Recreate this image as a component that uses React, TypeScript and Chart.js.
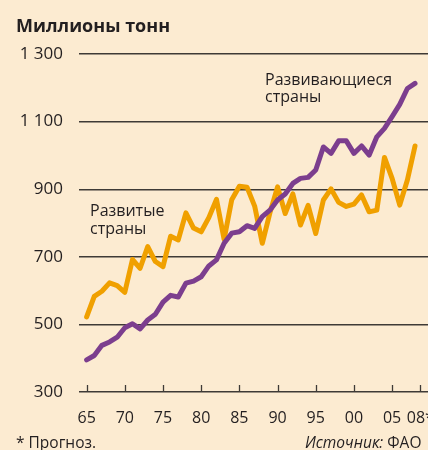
import React, { useEffect, useRef } from 'react';
import { Chart, registerables } from 'chart.js';

Chart.register(...registerables);

const years = [
  1965, 1966, 1967, 1968, 1969, 1970, 1971, 1972, 1973, 1974,
  1975, 1976, 1977, 1978, 1979, 1980, 1981, 1982, 1983, 1984,
  1985, 1986, 1987, 1988, 1989, 1990, 1991, 1992, 1993, 1994,
  1995, 1996, 1997, 1998, 1999, 2000, 2001, 2002, 2003, 2004,
  2005, 2006, 2007, 2008,
];

// Развивающиеся страны
const developing = [
  395, 408, 438, 448, 462, 490, 502, 487, 513, 530,
  566, 586, 581, 622, 628, 641, 673, 691, 740, 770,
  774, 792, 784, 819, 838, 868, 886, 917, 932, 935,
  957, 1025, 1006, 1043, 1043, 1006, 1028, 1001, 1055, 1080,
  1115, 1151, 1198, 1213,
];

// Развитые страны
const developed = [
  522, 583, 598, 623, 615, 595, 692, 666, 730, 686,
  671, 761, 750, 830, 785, 774, 816, 870, 752, 869,
  909, 906, 850, 740, 830, 907, 828, 886, 794, 852,
  769, 868, 901, 861, 849, 856, 883, 833, 838, 994,
  932, 853, 927, 1028,
];

const yTickValues = [300, 500, 700, 900, 1100, 1300];
// the "08*" (forecast) tick sits at the right end of the axis in the original
const xTickPositions = [1965, 1970, 1975, 1980, 1985, 1990, 1995, 2000, 2005, 2008.7];
const xTickLabels = ['65', '70', '75', '80', '85', '90', '95', '00', '05', '08*'];

const BG = '#FCEBD1';
const TEXT = '#231F20';
const GRID = '#3E3A36';
const ORANGE = '#F0A000';
const PURPLE = '#7C3E8E';
const FONT = "'Open Sans', sans-serif";

const fmt = (v: number) => {
  const s = String(v);
  return s.length > 3 ? s.slice(0, s.length - 3) + ' ' + s.slice(-3) : s;
};

const decor = {
  id: 'decor',
  afterDraw(chart: any) {
    const ctx = chart.ctx as CanvasRenderingContext2D;
    const xs = chart.scales.x;
    const bottom = chart.chartArea.bottom;
    ctx.save();
    // upward tick marks on the x axis
    ctx.strokeStyle = GRID;
    ctx.lineWidth = 1.3;
    xTickPositions.forEach((v) => {
      const px = Math.round(xs.getPixelForValue(v)) + 0.5;
      ctx.beginPath();
      ctx.moveTo(px, bottom);
      ctx.lineTo(px, bottom - 7);
      ctx.stroke();
    });
    // texts
    ctx.fillStyle = TEXT;
    ctx.textAlign = 'left';
    ctx.textBaseline = 'alphabetic';
    ctx.font = `bold 18px ${FONT}`;
    ctx.fillText('Миллионы тонн', 16, 31.5);

    ctx.font = `16px ${FONT}`;
    ctx.fillText('Развивающиеся', 265, 84.5);
    ctx.fillText('страны', 265, 101.5);
    ctx.fillText('Развитые', 90, 216);
    ctx.fillText('страны', 90, 233.5);

    ctx.font = `15.5px ${FONT}`;
    ctx.fillText('* Прогноз.', 16, 448);
    ctx.font = `italic 15.5px ${FONT}`;
    const src = 'Источник: ';
    ctx.fillText(src, 305, 448);
    const w = ctx.measureText(src).width;
    ctx.font = `15.5px ${FONT}`;
    ctx.fillText('ФАО', 305 + w, 448);
    ctx.restore();
  },
};

export default function App() {
  const ref = useRef<HTMLCanvasElement | null>(null);

  useEffect(() => {
    if (!ref.current) return;
    const chart = new Chart(ref.current, {
      type: 'line',
      data: {
        datasets: [
          {
            label: 'Развивающиеся страны',
            data: years.map((y, i) => ({ x: y, y: developing[i] })),
            borderColor: PURPLE,
            borderWidth: 5,
            pointRadius: 0,
            tension: 0,
            borderJoinStyle: 'round',
            borderCapStyle: 'round',
            fill: false,
          },
          {
            label: 'Развитые страны',
            data: years.map((y, i) => ({ x: y, y: developed[i] })),
            borderColor: ORANGE,
            borderWidth: 5,
            pointRadius: 0,
            tension: 0,
            borderJoinStyle: 'round',
            borderCapStyle: 'round',
            fill: false,
          },
        ],
      },
      options: {
        animation: false,
        responsive: false,
        maintainAspectRatio: false,
        layout: { padding: { top: 54, left: 0, right: 0, bottom: 0 } },
        plugins: {
          legend: { display: false },
          tooltip: { enabled: false },
          title: { display: false },
        },
        scales: {
          x: {
            type: 'linear',
            min: 1964,
            max: 2009.7,
            grid: { display: false, drawTicks: false },
            border: { display: false },
            afterBuildTicks: (scale: any) => {
              scale.ticks = xTickPositions.map((v) => ({ value: v }));
            },
            ticks: {
              autoSkip: false,
              maxRotation: 0,
              padding: 17,
              color: TEXT,
              font: { family: FONT, size: 16 },
              callback: (v: any) => {
                const i = xTickPositions.indexOf(Number(v));
                return i >= 0 ? xTickLabels[i] : '';
              },
            },
            afterFit: (scale: any) => {
              scale.height = 58;
              scale.paddingLeft = 0;
              scale.paddingRight = 0;
            },
          },
          y: {
            type: 'linear',
            min: 300,
            max: 1300,
            grid: { color: GRID, lineWidth: 1.4, drawTicks: false },
            border: { display: false },
            afterBuildTicks: (scale: any) => {
              scale.ticks = yTickValues.map((v) => ({ value: v }));
            },
            ticks: {
              padding: 16,
              color: TEXT,
              font: { family: FONT, size: 17 },
              callback: (v: any) => fmt(Number(v)),
            },
            afterFit: (scale: any) => {
              scale.width = 79;
              scale.paddingTop = 0;
              scale.paddingBottom = 0;
            },
          },
        },
      },
      plugins: [decor],
    } as any);
    return () => chart.destroy();
  }, []);

  return (
    <div
      style={{
        position: 'fixed',
        left: 0,
        top: 0,
        width: 428,
        height: 450,
        background: BG,
        overflow: 'hidden',
      }}
    >
      <canvas ref={ref} width={428} height={450} style={{ width: 428, height: 450, display: 'block' }} />
    </div>
  );
}
